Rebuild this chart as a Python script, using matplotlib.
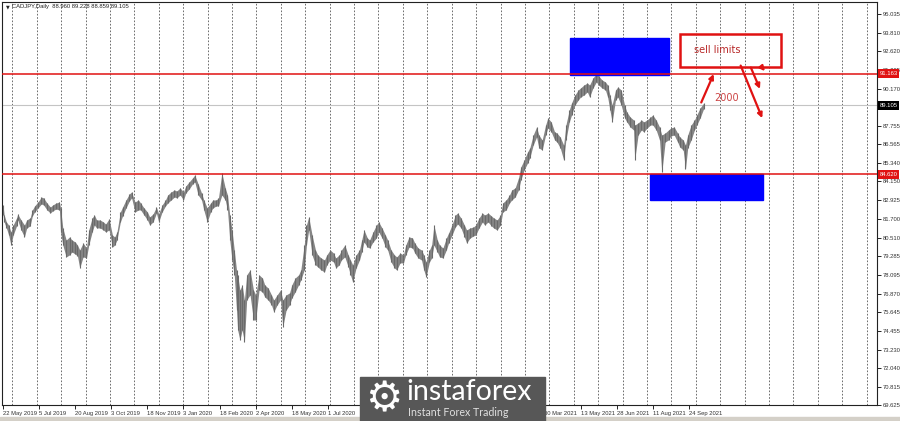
import matplotlib.pyplot as plt
from matplotlib.patches import Rectangle
from matplotlib.transforms import blended_transform_factory

# CADJPY daily (bar number counted from 22 May 2019)
bar_no = [0, 1, 3, 5, 7, 9, 12, 13, 16, 19,
          21, 24, 26, 28, 31, 34, 36, 39, 42, 44,
          47, 50, 51, 53, 56, 59, 61, 64, 66, 68,
          71, 74, 76, 79, 81, 83, 86, 89, 91, 94,
          97, 99, 101, 104, 106, 109, 112, 114, 117, 120,
          122, 125, 128, 130, 133, 136, 138, 141, 144, 146,
          149, 152, 154, 157, 160, 162, 165, 168, 170, 173,
          176, 178, 181, 184, 186, 189, 191, 194, 197, 199,
          201, 203, 205, 207, 208, 210, 212, 214, 216, 219,
          222, 224, 227, 230, 232, 235, 238, 240, 243, 246,
          248, 251, 254, 256, 259, 262, 264, 267, 269, 271,
          274, 277, 279, 282, 285, 287, 290, 293, 295, 298,
          300, 303, 306, 308, 310, 313, 316, 318, 320, 323,
          325, 328, 331, 333, 336, 339, 341, 344, 347, 349,
          352, 355, 357, 360, 363, 365, 368, 371, 373, 375,
          378, 380, 382, 385, 387, 390, 393, 395, 398, 401,
          403, 406, 409, 411, 414, 417, 419, 422, 425, 427,
          430, 433, 435, 438, 441, 443, 446, 449, 451, 454,
          457, 459, 462, 465, 467, 470, 473, 475, 478, 481,
          483, 486, 489, 491, 494, 497, 499, 502, 504, 507,
          510, 512, 515, 518, 520, 523, 526, 528, 531, 534,
          536, 538, 540, 543, 545, 548, 551, 553, 556, 559,
          560, 563, 566, 568, 571, 574, 576, 579, 582, 584,
          587, 590, 592, 595, 598, 600, 603, 605, 607, 610,
          613, 615, 618, 621]

highs = [82.62, 81.97, 81.52, 81.32, 80.87, 81.32, 81.78, 82.04, 81.65, 81.32,
         81.65, 81.78, 82.30, 82.56, 82.82, 83.14, 83.08, 82.75, 82.49, 82.62,
         82.75, 82.82, 82.43, 81.13, 80.35, 80.55, 80.35, 80.22, 80.02, 79.70,
         80.15, 79.83, 81.00, 81.78, 81.97, 81.65, 81.65, 81.52, 81.39, 81.72,
         80.67, 80.55, 80.87, 82.17, 82.49, 82.95, 83.34, 83.47, 82.82, 82.95,
         82.75, 82.43, 82.17, 81.85, 82.04, 82.49, 82.04, 82.62, 82.95, 83.27,
         83.47, 83.60, 83.53, 83.73, 83.47, 83.86, 84.12, 84.38, 84.57, 83.99,
         83.40, 82.95, 82.43, 82.75, 82.95, 82.95, 83.08, 84.70, 83.73, 83.27,
         81.97, 81.00, 79.70, 78.40, 78.08, 77.10, 77.43, 76.45, 78.08, 78.40,
         77.10, 76.78, 78.08, 77.88, 77.43, 77.23, 76.78, 76.45, 76.78, 77.10,
         76.45, 76.78, 76.91, 77.43, 77.88, 78.08, 78.40, 80.02, 81.32, 81.85,
         80.67, 79.70, 79.38, 79.18, 79.05, 79.38, 79.70, 79.50, 79.18, 79.38,
         79.70, 80.02, 79.38, 79.05, 78.73, 79.38, 79.70, 80.35, 81.00, 80.48,
         80.35, 80.87, 81.32, 81.52, 81.13, 80.67, 80.35, 79.70, 79.38, 79.25,
         79.50, 79.38, 80.02, 80.55, 80.48, 80.15, 79.83, 79.70, 79.38, 78.92,
         79.70, 80.02, 81.32, 80.35, 80.02, 79.83, 80.48, 80.80, 81.32, 81.97,
         82.10, 81.78, 81.32, 81.00, 81.13, 81.19, 81.32, 81.78, 82.10, 81.97,
         82.10, 81.91, 81.78, 81.65, 81.97, 82.75, 82.95, 83.27, 83.60, 83.73,
         84.38, 85.09, 85.55, 86.07, 86.33, 87.17, 87.69, 87.17, 86.85, 87.82,
         88.28, 88.02, 87.37, 87.30, 87.04, 86.52, 87.82, 88.80, 89.25, 89.77,
         90.10, 90.23, 90.42, 90.55, 90.42, 90.88, 91.14, 91.01, 90.75, 90.62,
         90.42, 89.77, 89.12, 90.10, 90.29, 90.10, 89.12, 88.67, 88.34, 88.15,
         87.82, 87.95, 88.15, 88.02, 88.15, 88.34, 88.47, 88.15, 87.69, 87.17,
         87.30, 87.50, 87.63, 87.69, 87.30, 87.04, 86.85, 86.52, 87.17, 87.82,
         88.15, 88.47, 88.93, 89.228]

lows = [81.97, 81.52, 81.13, 80.67, 80.02, 80.67, 81.26, 81.65, 81.00, 80.55,
        81.13, 81.26, 81.91, 82.17, 82.43, 82.69, 82.62, 82.30, 82.10, 82.24,
        82.36, 82.30, 80.87, 80.02, 79.25, 79.38, 79.57, 79.44, 79.31, 78.53,
        79.25, 79.18, 80.02, 80.87, 81.32, 81.13, 81.13, 81.00, 80.87, 81.00,
        79.89, 80.02, 80.35, 81.52, 81.91, 82.43, 82.88, 83.08, 82.17, 82.30,
        82.30, 81.97, 81.65, 81.32, 81.52, 82.10, 81.52, 82.17, 82.56, 82.75,
        82.95, 83.14, 83.08, 83.27, 82.95, 83.40, 83.66, 83.99, 84.12, 83.27,
        82.95, 82.30, 81.52, 82.17, 82.43, 82.56, 82.56, 83.27, 82.95, 82.30,
        80.35, 79.05, 78.08, 75.80, 74.50, 73.85, 74.50, 73.72, 76.45, 76.78,
        75.15, 75.15, 77.10, 76.97, 76.65, 76.45, 76.13, 75.67, 76.13, 76.45,
        74.70, 75.80, 76.13, 76.58, 76.97, 77.43, 77.75, 78.40, 80.02, 81.00,
        79.38, 78.73, 78.60, 78.40, 78.27, 78.73, 79.05, 78.92, 78.53, 78.73,
        79.05, 79.25, 78.60, 78.08, 77.62, 78.53, 79.05, 79.57, 80.22, 79.89,
        79.83, 80.22, 80.48, 80.87, 80.48, 79.89, 79.70, 78.92, 78.53, 78.40,
        78.86, 78.86, 79.38, 79.89, 79.83, 79.50, 79.18, 79.05, 78.40, 77.95,
        78.92, 79.18, 80.02, 79.57, 79.25, 79.18, 79.70, 80.15, 80.67, 81.19,
        81.39, 81.13, 80.55, 80.15, 80.48, 80.61, 80.67, 81.13, 81.52, 81.32,
        81.52, 81.26, 81.13, 81.00, 81.32, 82.17, 82.30, 82.75, 82.95, 83.14,
        83.60, 84.25, 84.90, 85.35, 85.68, 86.52, 87.04, 86.33, 86.20, 87.17,
        87.63, 87.37, 86.85, 86.72, 86.33, 85.55, 86.85, 88.02, 88.47, 89.12,
        89.45, 89.64, 89.77, 89.97, 89.64, 90.23, 90.62, 90.42, 90.23, 90.10,
        89.64, 88.80, 88.02, 89.45, 89.64, 89.12, 88.28, 88.02, 87.69, 87.50,
        85.55, 87.17, 87.50, 87.37, 87.63, 87.82, 87.82, 87.50, 86.85, 84.75,
        86.72, 86.85, 87.11, 87.17, 86.72, 86.39, 86.20, 84.95, 86.33, 86.85,
        87.50, 87.82, 88.28, 88.859]

last_ohlc = [88.960, 89.228, 88.859, 89.105]

date_labels = ['22 May 2019', '5 Jul 2019', '20 Aug 2019', '3 Oct 2019', '18 Nov 2019',
               '3 Jan 2020', '18 Feb 2020', '2 Apr 2020', '18 May 2020', '1 Jul 2020',
               '30 Mar 2021', '13 May 2021', '28 Jun 2021', '11 Aug 2021', '24 Sep 2021']
date_bars = [0, 32, 64, 96, 128, 160, 192, 224, 256, 288, 480, 512, 544, 576, 608]

price_ticks = [95.035, 93.810, 92.620, 91.395, 90.170, 87.755, 86.565, 85.340,
               84.150, 82.925, 81.700, 80.510, 79.285, 78.095, 76.870, 75.645,
               74.455, 73.230, 72.040, 70.815, 69.625]

resistance = 91.163
support = 84.620
sell_zone = (503, 590, 91.07, 93.48)     # bar from, bar to, low, high
buy_zone = (574, 674, 82.95, 84.62)
note_box = (600, 690, 91.59, 93.73)

RED = '#e01212'
SMALL = 'Liberation Sans'

fig = plt.figure(figsize=(9, 4.21), dpi=100)
ax = fig.add_axes([2 / 900, 1 - 405 / 421, 875 / 900, 403 / 421])
ax.set_xlim(-0.9, 774.8)
ax.set_ylim(69.625, 95.815)

# dotted vertical grid
g = 8.24
while g < 774.8:
    ax.axvline(g, color='#555555', lw=0.6, ls=(0, (2, 2)), zorder=1)
    g += 21.64

ax.axhline(last_ohlc[3], color='#c4c4c4', lw=0.8, zorder=1)

ax.fill_between(bar_no, lows, highs, color='#858585', lw=0, zorder=3)
ax.vlines(bar_no, lows, highs, color='#6a6a6a', lw=0.8, zorder=3)

ax.add_patch(Rectangle((sell_zone[0], sell_zone[2]), sell_zone[1] - sell_zone[0],
                       sell_zone[3] - sell_zone[2], color='#0000ff', zorder=4))
ax.add_patch(Rectangle((buy_zone[0], buy_zone[2]), buy_zone[1] - buy_zone[0],
                       buy_zone[3] - buy_zone[2], color='#0000ff', zorder=4))
ax.axhline(resistance, color=RED, lw=1.1, zorder=5)
ax.axhline(support, color=RED, lw=1.1, zorder=5)

ax.add_patch(Rectangle((note_box[0], note_box[2]), note_box[1] - note_box[0],
                       note_box[3] - note_box[2], fill=False, ec=RED, lw=1.8, zorder=6))
ax.text(613, 92.70, 'sell limits', color='#b82828', fontsize=7, va='center', zorder=7)
ax.text(641, 89.58, '2000', color='#cc4444', fontsize=7, ha='center', va='center', zorder=7)

arrows = [((618, 89.12), (631, 91.30)),
          ((653, 91.85), (674, 88.10)),
          ((662, 91.72), (672, 90.00)),
          ((671, 91.72), (677, 91.18))]
for start, end in arrows:
    ax.annotate('', xy=end, xytext=start,
                arrowprops=dict(arrowstyle='-|>', color=RED, lw=1.6, mutation_scale=7),
                zorder=7)

# price scale on the right
ax.yaxis.tick_right()
ax.set_yticks(price_ticks)
ax.set_yticklabels([f'{p:.3f}' for p in price_ticks], family=SMALL)
ax.tick_params(axis='y', length=3, width=0.6, pad=1.2, labelsize=4.2, labelcolor='#333333')

ax.set_xticks(date_bars)
ax.set_xticklabels(date_labels, ha='left', family=SMALL)
ax.tick_params(axis='x', length=3, width=0.6, pad=1.5, labelsize=4.2, labelcolor='#333333')

for s in ax.spines.values():
    s.set_color('#222222')
    s.set_linewidth(0.8)

tr = blended_transform_factory(ax.transAxes, ax.transData)
for val, bg in [(resistance, RED), (last_ohlc[3], '#000000'), (support, RED)]:
    ax.text(1.003, val, f'{val:.3f}', transform=tr, fontsize=4.2, color='white',
            family=SMALL, va='center', ha='left', clip_on=False, zorder=10,
            bbox=dict(boxstyle='square,pad=0.3', fc=bg, ec='none'))

ax.text(0.004, 0.993, '\u25bc', transform=ax.transAxes, fontsize=3.5, va='top', color='#222222')
ax.text(0.012, 0.995, 'CADJPY,Daily  ' + ' '.join(f'{v:.3f}' for v in last_ohlc),
        transform=ax.transAxes, fontsize=4.2, family=SMALL, va='top', color='#222222')

# bottom strip and logo
fig.patches.append(Rectangle((0, 0), 1, 4 / 421, transform=fig.transFigure,
                             color='#d4d0c8', zorder=0))
fig.patches.append(Rectangle((360 / 900, 0), 185 / 900, 44 / 421, transform=fig.transFigure,
                             color='#575757', zorder=20))
fig.text(384 / 900, 1 - 399 / 421, '\u2699', fontsize=30, color='white',
         ha='center', va='center', zorder=21)
fig.text(406 / 900, 1 - 392 / 421, 'instaforex', fontsize=20.5, color='white',
         family='Lato', ha='left', va='center', zorder=21)
fig.text(408 / 900, 1 - 413 / 421, 'Instant Forex Trading', fontsize=7.7, color='#e0e0e0',
         family='Lato', ha='left', va='center', zorder=21)

fig.savefig('out.png', dpi=100)
